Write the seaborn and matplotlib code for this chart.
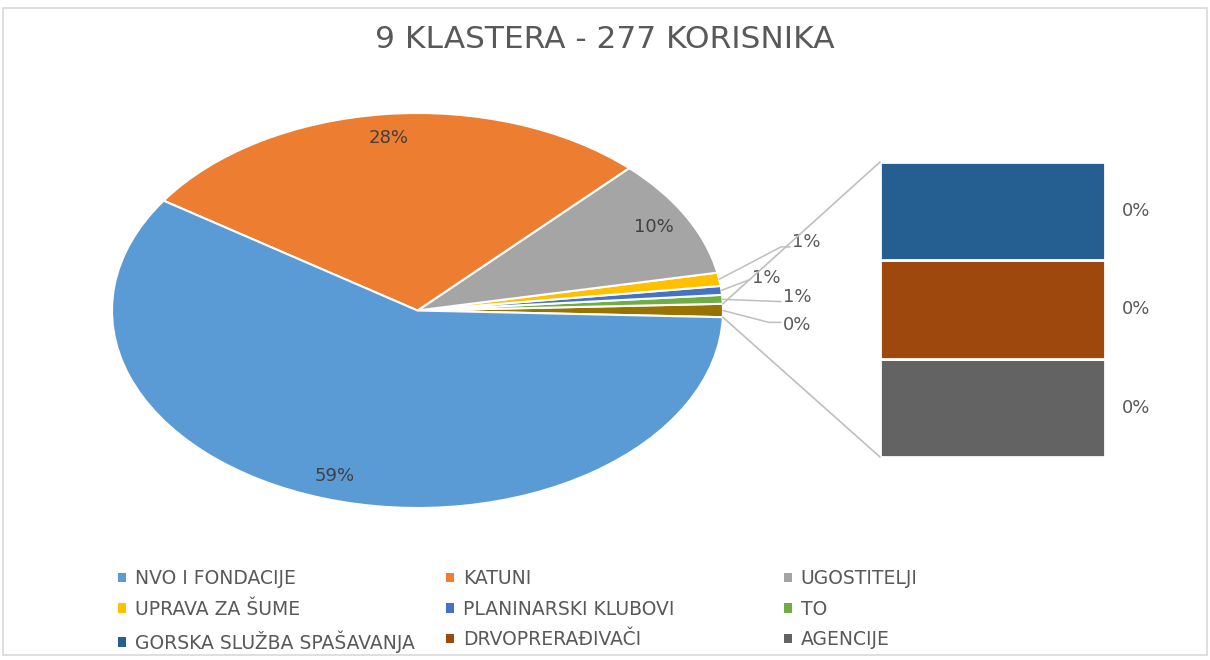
import matplotlib
matplotlib.use("Agg")
import matplotlib.pyplot as plt
import seaborn as sns
import numpy as np
from matplotlib.patches import Patch, Rectangle, ConnectionPatch

sns.set_theme(style="white")
plt.rcParams['font.family'] = ['DejaVu Sans']

# ---------------- data ----------------
title = "9 KLASTERA - 277 KORISNIKA"
categories = ["NVO I FONDACIJE", "KATUNI", "UGOSTITELJI", "UPRAVA ZA ŠUME",
              "PLANINARSKI KLUBOVI", "TO", "GORSKA SLUŽBA SPAŠAVANJA",
              "DRVOPRERAĐIVAČI", "AGENCIJE"]
counts = [163, 77, 27, 3, 2, 2, 1, 1, 1]
pct_labels = ["59%", "28%", "10%", "1%", "1%", "1%", "0%", "0%", "0%"]
other_label = "0%"
colors = ["#5B9BD5", "#ED7D31", "#A5A5A5", "#FFC000", "#4472C4", "#70AD47",
          "#255E91", "#9E480E", "#636363"]
other_color = "#997300"
n_main = 6   # first six slices in the pie, rest in the bar

# ---------------- figure ----------------
fig = plt.figure(figsize=(12.1, 6.6), dpi=100)
fig.patch.set_facecolor("white")
fig.add_artist(Rectangle((3/1210, 1-655/660), 1204/1210, 647/660,
                         transform=fig.transFigure, fill=False,
                         edgecolor="#D9D9D9", linewidth=1.2))

fig.text(0.5, 1-40/660, title, ha="center", va="center", fontsize=22.5,
         color="#595959")

# pie axes
axp = fig.add_axes([112/1210, 1-508/660, 611/1210, 395/660])
main_vals = counts[:n_main]
other_val = sum(counts[n_main:])
# counterclockwise order starting with "other" centred at 0 degrees
pie_vals = [other_val] + main_vals[::-1]
pie_cols = [other_color] + colors[:n_main][::-1]
total = sum(pie_vals)
start = -360 * other_val / total / 2
wedges, _ = axp.pie(pie_vals, colors=pie_cols, startangle=start,
                    counterclock=True,
                    wedgeprops=dict(edgecolor="white", linewidth=1.5))
axp.set_aspect("auto")
axp.set_xlim(-1, 1)
axp.set_ylim(-1, 1)
axp.axis("off")

# map wedges back to categories
wedge_of = {"other": wedges[0]}
for i, w in enumerate(wedges[1:]):
    wedge_of[n_main - 1 - i] = w

def mid(w):
    return np.deg2rad((w.theta1 + w.theta2) / 2)

txt_col = "#404040"
# big slices: labels inside
for i in range(3):
    a = mid(wedge_of[i])
    r = 0.88
    axp.text(r*np.cos(a), r*np.sin(a), pct_labels[i], ha="center", va="center",
             fontsize=13, color=txt_col)

lead_col = "#BFBFBF"
# small slices with leader lines: (elbow, end, text position)
small_layout = {
    3: ((1.19, 0.322), (1.22, 0.322), (1.225, 0.347)),
    4: ((1.09, 0.158), (1.09, 0.158), (1.095, 0.165)),
    5: ((1.19, 0.045), (1.19, 0.045), (1.195, 0.068)),
    "other": ((1.15, -0.06), (1.19, -0.06), (1.195, -0.073)),
}
for key, (elb, end, tp) in small_layout.items():
    w = wedge_of[key]
    a = mid(w)
    x0, y0 = np.cos(a), np.sin(a)
    axp.plot([x0, elb[0], end[0]], [y0, elb[1], end[1]], color=lead_col,
             lw=1.1, clip_on=False)
    lab = other_label if key == "other" else pct_labels[key]
    axp.text(tp[0], tp[1], lab, ha="left", va="center", fontsize=13,
             color="#595959", clip_on=False)

# bar axes (breakdown of "other")
axb = fig.add_axes([880/1210, 1-457/660, 225/1210, 295/660])
bar_vals = counts[n_main:][::-1]       # bottom to top
bar_cols = colors[n_main:][::-1]
bar_labs = pct_labels[n_main:][::-1]
bottom = 0
for v, c, lab in zip(bar_vals, bar_cols, bar_labs):
    axb.bar(0, v, bottom=bottom, width=1, align="edge", color=c,
            edgecolor="white", linewidth=2)
    axb.text(1.14, bottom + v/2, lab, ha="center", va="center", fontsize=13,
             color="#595959", clip_on=False)
    bottom += v
axb.set_xlim(0, 1)
axb.set_ylim(0, bottom)
axb.axis("off")

# connectors
wo = wedge_of["other"]
for ang, yb in ((wo.theta2, bottom), (wo.theta1, 0)):
    a = np.deg2rad(ang)
    cp = ConnectionPatch(xyA=(np.cos(a), np.sin(a)), coordsA=axp.transData,
                         xyB=(0, yb), coordsB=axb.transData,
                         color=lead_col, lw=1.2)
    fig.add_artist(cp)

# legend: three columns filled row-wise
col_x = [118, 446, 784]
for c in range(3):
    idx = [c, c + 3, c + 6]
    handles = [Patch(facecolor=colors[i], edgecolor="none") for i in idx]
    labels = [categories[i] for i in idx]
    fig.legend(handles, labels, loc="upper left",
               bbox_to_anchor=(col_x[c]/1210, 1-569/660),
               frameon=False, fontsize=13.5, handlelength=0.4,
               handleheight=0.4, handletextpad=0.5, labelspacing=0.62,
               borderpad=0, borderaxespad=0, labelcolor="#595959")

fig.savefig("out.png", dpi=100, facecolor="white")
